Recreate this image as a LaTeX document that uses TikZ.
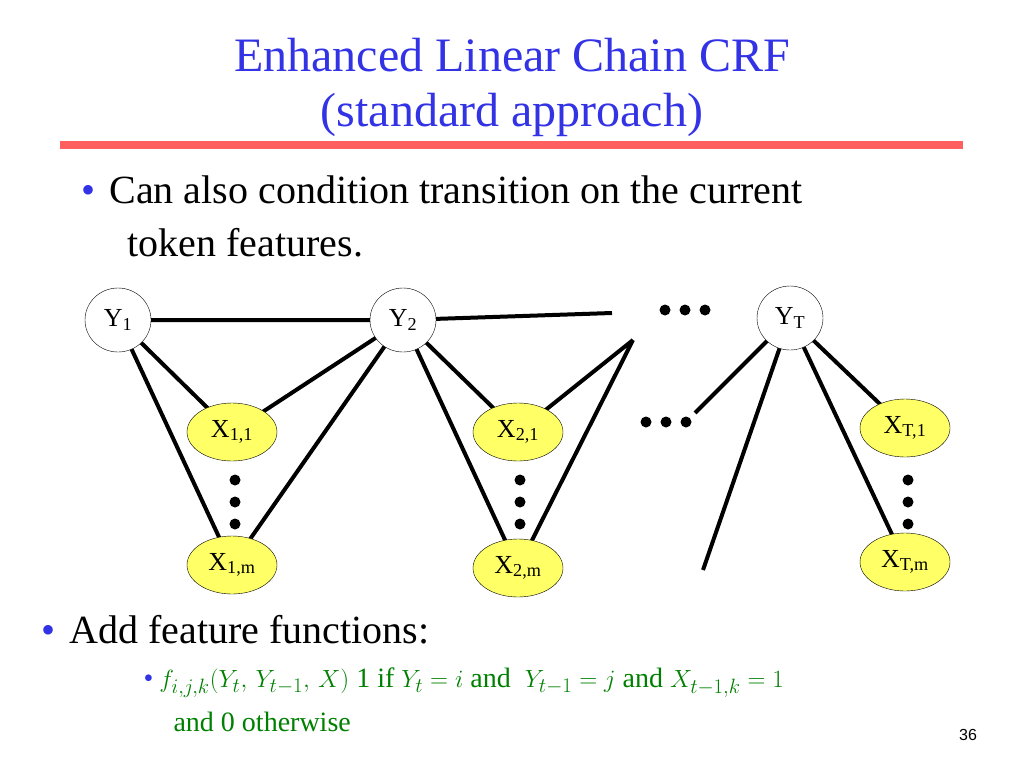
\documentclass[tikz,border=0pt]{standalone}
\usepackage{fontspec}
\setmainfont{Liberation Serif}
\newfontfamily\pagefont{Liberation Sans}
\usepackage{xcolor}
\usetikzlibrary{calc,shapes.geometric,backgrounds}
\definecolor{titleblue}{RGB}{51,51,230}
\definecolor{rulered}{RGB}{255,95,95}
\definecolor{nodeyellow}{RGB}{255,255,102}
\definecolor{formgreen}{RGB}{0,128,0}
\tikzset{
  ynode/.style={draw,ellipse,fill=white,minimum width=66pt,minimum height=64pt,inner sep=0pt,font=\fontsize{26}{26}\selectfont},
  xnode/.style={draw,ellipse,fill=nodeyellow,minimum width=90pt,minimum height=58pt,inner sep=0pt,font=\fontsize{26}{26}\selectfont},
  edge/.style={line width=4pt},
  dot/.style={circle,fill=black,inner sep=0pt,minimum size=11pt}
}
\begin{document}
\begin{tikzpicture}[x=1pt,y=-1pt]
  \useasboundingbox (0,0) rectangle (1024,768);

  % Title and rule
  \node[titleblue,font=\fontsize{48}{48}\selectfont] (title1) at (512,55) {Enhanced Linear Chain CRF};
  \node[titleblue,font=\fontsize{48}{48}\selectfont] (title2) at (512,115) {(standard approach)};
  \draw[rulered,line width=8pt] (60,145) -- (963,145);

  % First bullet
  \node[anchor=west,font=\fontsize{40}{40}\selectfont] (b1) at (78,190) {\textcolor{titleblue}{\textbullet}\hspace{14pt}Can also condition transition on the current};
  \node[anchor=west,font=\fontsize{40}{40}\selectfont] (b1b) at (124,243) {token features.};

  % Nodes
  \node[ynode] (y1) at (118,320) {Y\textsubscript{1}};
  \node[ynode] (y2) at (403,320) {Y\textsubscript{2}};
  \node[ynode] (yT) at (790,318) {Y\textsubscript{T}};
  \node[xnode] (x11) at (232,432) {X\textsubscript{1,1}};
  \node[xnode] (x1m) at (232,565) {X\textsubscript{1,m}};
  \node[xnode] (x21) at (518,432) {X\textsubscript{2,1}};
  \node[xnode] (x2m) at (518,568) {X\textsubscript{2,m}};
  \node[xnode] (xT1) at (905,428) {X\textsubscript{T,1}};
  \node[xnode] (xTm) at (905,562) {X\textsubscript{T,m}};

  % Free ends
  \coordinate (e1) at (612,313);
  \coordinate (e2) at (633,340);
  \coordinate (e3) at (695,413);
  \coordinate (e4) at (703,570);

  % Edges
  \begin{scope}[on background layer]
    \draw[edge] (y1.center) -- (y2.center) -- (e1);
    \foreach \y/\a/\b in {y1/x11/x1m, y2/x11/x1m, y2/x21/x2m}
      \draw[edge] (\y.center) -- (\a.center) (\y.center) -- (\b.center);
    \draw[edge] (e2) -- (x21.center) (e2) -- (x2m.center);
    \foreach \t in {e3,e4,xT1.center,xTm.center}
      \draw[edge] (yT.center) -- (\t);
  \end{scope}

  % Dots
  \foreach \x in {665,685,705} \node[dot] at (\x,310) {};
  \foreach \x in {646,666,686} \node[dot] at (\x,422) {};
  \foreach \x in {235,520,908} \foreach \y in {480,502,524} \node[dot] at (\x,\y) {};

  % Second bullet
  \node[anchor=west,font=\fontsize{40}{40}\selectfont] (b2) at (38,630) {\textcolor{titleblue}{\textbullet}\hspace{14pt}Add feature functions:};
  \node[anchor=west,font=\fontsize{28}{28}\selectfont,formgreen] (b3) at (140,683)
    {\textcolor{titleblue}{\textbullet}\hspace{6pt}$f_{i,j,k}(Y_t,\,Y_{t-1},\,X)$ 1 if $Y_t=i$ and \ $Y_{t-1}=j$ and $X_{t-1,k}=1$};
  \node[anchor=west,font=\fontsize{28}{28}\selectfont,formgreen] (b4) at (170,722) {and 0 otherwise};
  \node[font=\pagefont\fontsize{16}{16}\selectfont] (pg) at (968,735) {36};
\end{tikzpicture}
\end{document}
